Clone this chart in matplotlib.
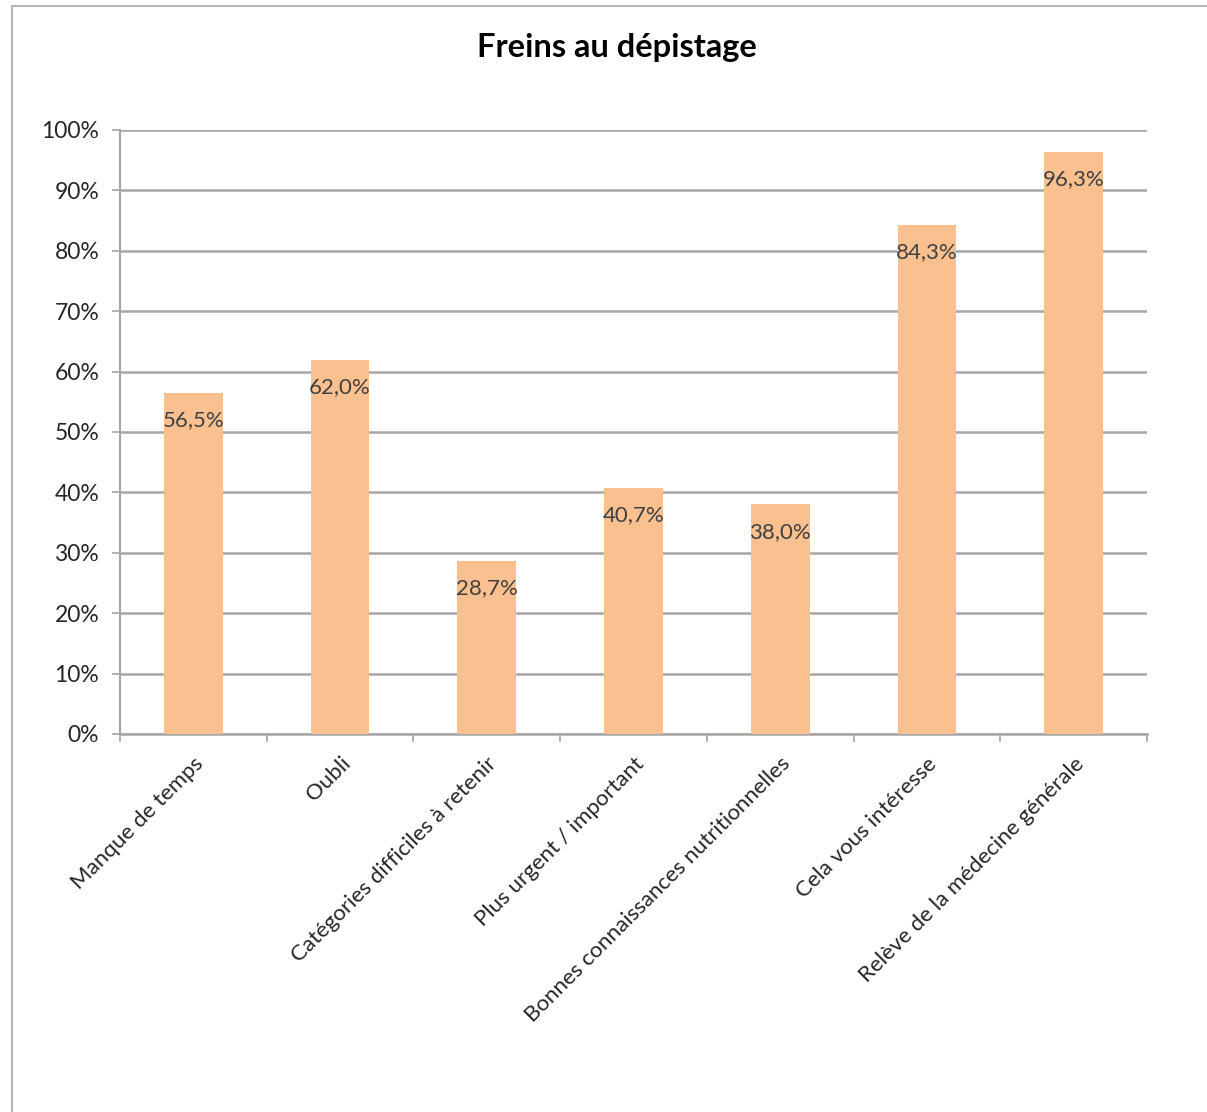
import matplotlib
matplotlib.use("Agg")
import matplotlib.pyplot as plt
from matplotlib.lines import Line2D
from matplotlib.ticker import FuncFormatter, MultipleLocator

# Survey results: reasons given for not screening
categories = [
    "Manque de temps",
    "Oubli",
    "Catégories difficiles à retenir",
    "Plus urgent / important",
    "Bonnes connaissances nutritionnelles",
    "Cela vous intéresse",
    "Relève de la médecine générale",
]
values = [56.5, 62.0, 28.7, 40.7, 38.0, 84.3, 96.3]
title = "Freins au dépistage"

plt.rcParams["font.family"] = ["Lato", "DejaVu Sans"]

W, H = 1207, 1112
fig = plt.figure(figsize=(W / 100, H / 100), dpi=100)

# chart area frame: top and left edges only
top = 1 - 6 / H
left = 12 / W
fig.lines.append(Line2D([left, 1.0], [top, top], transform=fig.transFigure,
                        color="#b5b5b5", linewidth=1.5))
fig.lines.append(Line2D([left, left], [0.0, top], transform=fig.transFigure,
                        color="#b5b5b5", linewidth=1.5))

ax = fig.add_axes([120 / W, 1 - 734 / H, (1147 - 120) / W, (734 - 130) / H])

x = list(range(len(categories)))
ax.bar(x, values, width=0.4, color="#FAC090", zorder=3)

ax.set_xlim(-0.5, len(categories) - 0.5)
ax.set_ylim(0, 100)
ax.yaxis.set_major_locator(MultipleLocator(10))
ax.yaxis.set_major_formatter(FuncFormatter(lambda v, p: f"{v:.0f}%"))
ax.grid(axis="y", color="#a6a6a6", linewidth=1.8, zorder=1)

for s in ["top", "right"]:
    ax.spines[s].set_visible(False)
ax.spines["left"].set_color("#a6a6a6")
ax.spines["bottom"].set_color("#a6a6a6")
ax.spines["left"].set_linewidth(1.5)
ax.spines["bottom"].set_linewidth(1.8)

# category ticks sit between the bars, labels under the bars
ax.set_xticks([i - 0.5 for i in range(len(categories) + 1)])
ax.set_xticklabels([])
ax.set_xticks(x, minor=True)
ax.set_xticklabels(categories, minor=True, rotation=45, ha="right",
                   rotation_mode="anchor", fontsize=16, color="#262626")
ax.tick_params(axis="x", which="minor", length=0, pad=14)
ax.tick_params(axis="x", which="major", length=6, color="#a6a6a6", width=1.2)
ax.tick_params(axis="y", length=6, color="#a6a6a6", width=1.2,
               labelsize=16.5, labelcolor="#262626", pad=9)

for xi, v in zip(x, values):
    ax.text(xi, v - 4.5, f"{v:.1f}%".replace(".", ","), ha="center",
            va="center", fontsize=16, color="#404040", zorder=4)

fig.text(617 / W, 1 - 48 / H, title, ha="center", va="center",
         fontsize=23.5, fontweight="bold", color="#000000")

fig.savefig("out.png", dpi=100)
